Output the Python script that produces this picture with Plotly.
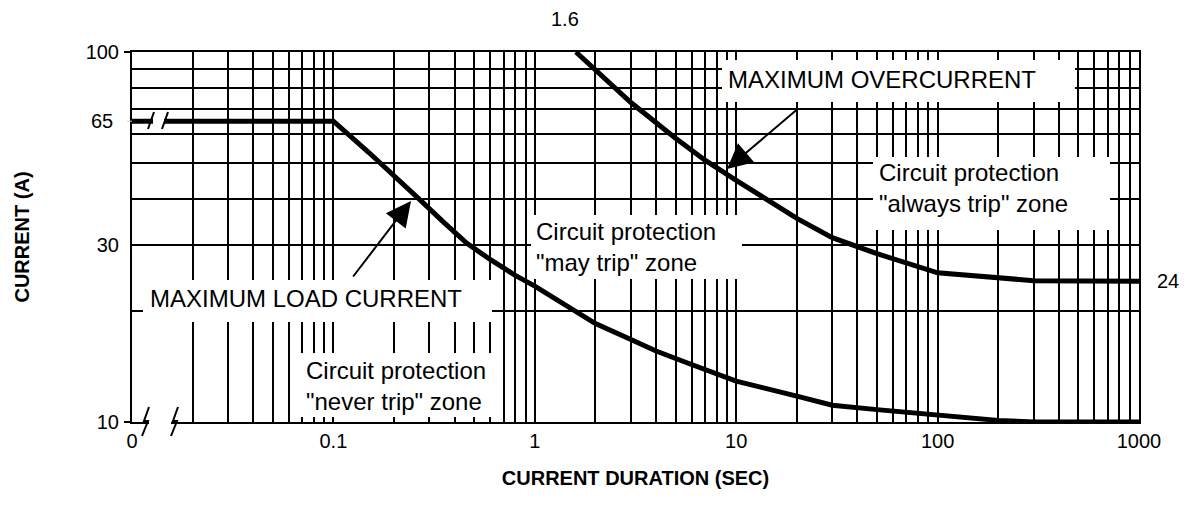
import math
import plotly.graph_objects as go

# ---------------- data ----------------
load_duration_s = [0.01, 0.1, 0.15, 0.2, 0.27, 0.35, 0.46, 0.6, 0.8, 1, 1.5, 2, 3, 4, 6,
                   10, 20, 30, 50, 100, 200, 300, 1000]
load_current_a = [65, 65, 53.5, 46.5, 39.8, 34.8, 30.4, 27.5, 24.9, 23.3, 20.3, 18.45, 16.7,
                  15.55, 14.3, 12.9, 11.75, 11.1, 10.8, 10.45, 10.1, 10.0, 10.0]

over_duration_s = [1.6, 2, 3, 5, 7, 10, 13, 20, 30, 50, 100, 200, 300, 1000]
over_current_a = [100, 89.5, 73, 58.5, 51, 45, 41, 35.5, 31.5, 28.5, 25.3, 24.5, 24.1, 24]

x_decades = [0.01, 0.1, 1, 10, 100, 1000]
x_tick_labels = ["0", "0.1", "1", "10", "100", "1000"]
y_grid_values = [10, 20, 30, 40, 50, 60, 70, 80, 90, 100]
y_tick_labels = ["10", "", "30", "", "", "", "", "", "", "100"]
y_extra_label = 65

# ---------------- helpers ----------------
FONT = "Liberation Sans, Arial, Helvetica, sans-serif"
W, H = 1186, 517
L, R, T, B = 132, 1139, 52, 422


def px(x):
    return (x - L) / (R - L)


def py(y):
    return (B - y) / (B - T)


# grid / tick positions on the log x axis: 1..9 x each decade
x_tickvals, x_ticktext = [], []
for d, lab in zip(x_decades[:-1], x_tick_labels[:-1]):
    for m in range(1, 10):
        x_tickvals.append(m * d)
        x_ticktext.append(lab if m == 1 else "")
x_tickvals.append(x_decades[-1])
x_ticktext.append(x_tick_labels[-1])

fig = go.Figure()
fig.add_trace(go.Scatter(x=load_duration_s, y=load_current_a, mode="lines",
                         line=dict(color="black", width=5), showlegend=False,
                         cliponaxis=False, hoverinfo="skip"))
fig.add_trace(go.Scatter(x=over_duration_s, y=over_current_a, mode="lines",
                         line=dict(color="black", width=5), showlegend=False,
                         cliponaxis=False, hoverinfo="skip"))

shapes = []
# white label boxes that interrupt the grid (they do not overlap the curves)
for x0, y0, x1, y1 in [(722, 60, 1075, 102), (143, 280, 492, 322),
                       (300, 353, 492, 417), (531, 215, 742, 279),
                       (873, 157, 1110, 230)]:
    shapes.append(dict(type="rect", xref="paper", yref="paper",
                       x0=px(x0), x1=px(x1), y0=py(y1), y1=py(y0),
                       fillcolor="white", line=dict(width=0), layer="above"))

# axis-break marks on the 65 A line
shapes.append(dict(type="rect", xref="paper", yref="paper",
                   x0=px(153), x1=px(164), y0=py(126), y1=py(116),
                   fillcolor="white", line=dict(width=0), layer="above"))
for xs in (148, 162):
    shapes.append(dict(type="line", xref="paper", yref="paper",
                       x0=px(xs), y0=py(129), x1=px(xs + 6), y1=py(112),
                       line=dict(color="black", width=2), layer="above"))

# axis-break marks on the time axis
shapes.append(dict(type="rect", xref="paper", yref="paper",
                   x0=px(149), x1=px(171), y0=py(425), y1=py(419),
                   fillcolor="white", line=dict(width=0), layer="above"))
for xs in (143, 172):
    pts = [(xs + 6, 407), (xs + 1, 421), (xs + 5, 421), (xs - 1, 436)]
    path = "M " + " L ".join(f"{px(a):.5f},{py(b):.5f}" for a, b in pts)
    shapes.append(dict(type="path", xref="paper", yref="paper", path=path,
                       line=dict(color="black", width=2), layer="above"))

# short outside ticks on the current axis
for yv, col, x_start in ((10, "black", 124), (100, "black", 124), (65, "#c8c8c8", 127)):
    yy = (math.log10(yv) - 1)
    shapes.append(dict(type="line", xref="paper", yref="paper",
                       x0=px(x_start), x1=px(L), y0=yy, y1=yy,
                       line=dict(color=col, width=2 if col == "black" else 1),
                       layer="above"))

annotations = []
text_font = dict(family=FONT, size=24, color="black")


def label(text, x_left, y_center):
    annotations.append(dict(text=text, xref="paper", yref="paper",
                            x=px(x_left), y=py(y_center), xanchor="left",
                            yanchor="middle", align="left", showarrow=False,
                            font=text_font))


label("MAXIMUM OVERCURRENT", 726, 79)
label("MAXIMUM LOAD CURRENT", 148, 298)
label("Circuit protection<br>\"never trip\" zone", 304, 386)
label("Circuit protection<br>\"may trip\" zone", 534, 247)
label("Circuit protection<br>\"always trip\" zone", 877, 188)

# arrows
for tip, tail in [((411, 201), (352, 278)), ((727, 169), (800, 107))]:
    annotations.append(dict(text="", xref="paper", yref="paper",
                            x=px(tip[0]), y=py(tip[1]),
                            ax=tail[0] - tip[0], ay=tail[1] - tip[1],
                            showarrow=True, arrowhead=2, arrowsize=2.5,
                            arrowwidth=2, arrowcolor="black"))

tick_font = dict(family=FONT, size=20, color="black")
# "24" at the end of the overcurrent curve, "1.6" at its start
annotations.append(dict(text=f"{over_current_a[-1]:g}", xref="paper", yref="y",
                        x=1, y=math.log10(over_current_a[-1]), xanchor="left",
                        yanchor="middle", xshift=16, showarrow=False, font=tick_font))
annotations.append(dict(text=f"{over_duration_s[0]:g}", xref="x", yref="paper",
                        x=math.log10(over_duration_s[0]), y=1, xanchor="center",
                        yanchor="bottom", xshift=-11, yshift=20, showarrow=False,
                        font=tick_font))
annotations.append(dict(text=f"{y_extra_label:g}", xref="paper", yref="y",
                        x=0, y=math.log10(y_extra_label), xanchor="right",
                        yanchor="middle", xshift=-17, showarrow=False, font=tick_font))

fig.update_layout(
    width=W, height=H,
    margin=dict(l=L, r=W - R, t=T, b=H - B, autoexpand=False),
    paper_bgcolor="white", plot_bgcolor="white",
    font=dict(family=FONT, size=20, color="black"),
    shapes=shapes, annotations=annotations,
    xaxis=dict(type="log", range=[math.log10(x_decades[0]), math.log10(x_decades[-1])],
               tickmode="array", tickvals=x_tickvals, ticktext=x_ticktext,
               showgrid=True, gridcolor="black", gridwidth=2,
               showline=True, linecolor="black", linewidth=2, mirror=True,
               ticks="", tickfont=tick_font, zeroline=False,
               title=dict(text="<b>CURRENT DURATION (SEC)</b>",
                          font=dict(family=FONT, size=20, color="black"),
                          standoff=20)),
    yaxis=dict(type="log", range=[math.log10(y_grid_values[0]), math.log10(y_grid_values[-1])],
               tickmode="array", tickvals=y_grid_values, ticktext=y_tick_labels,
               showgrid=True, gridcolor="black", gridwidth=2,
               showline=True, linecolor="black", linewidth=2, mirror=True,
               ticks="", tickfont=tick_font, zeroline=False, ticklabelstandoff=7,
               title=dict(text="<b>CURRENT (A)</b>",
                          font=dict(family=FONT, size=20, color="black"),
                          standoff=51)),
)

fig.write_html("out.html")
